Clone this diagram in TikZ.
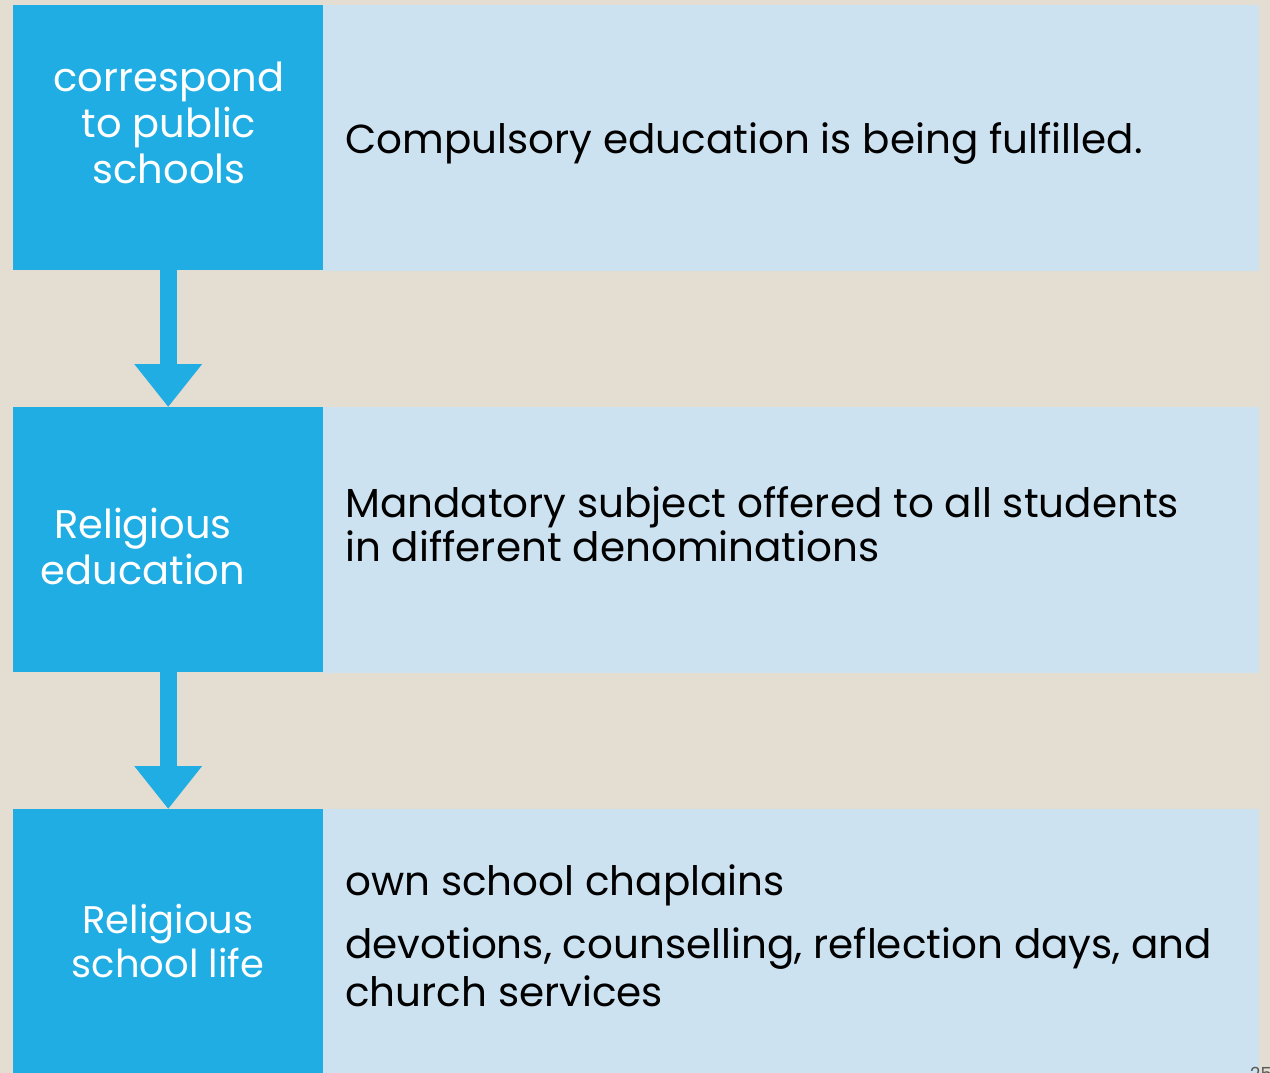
\documentclass[tikz,border=0pt]{standalone}
\usepackage{fontspec}
\setmainfont{Poppins}
\usetikzlibrary{arrows.meta}
\definecolor{bgbeige}{HTML}{E3DDD2}
\definecolor{boxblue}{HTML}{1FADE3}
\definecolor{paleblue}{HTML}{CDE2F1}
\definecolor{pagegray}{HTML}{595959}
\tikzset{
  keybox/.style={fill=boxblue, draw=none, inner sep=0pt, anchor=north west, minimum width=310pt, minimum height=265pt},
  infobox/.style={fill=paleblue, draw=none, inner sep=0pt, anchor=north west, minimum width=936pt, minimum height=266pt},
  keytext/.style={text=white, align=center, inner sep=0pt, anchor=base, font=\fontsize{40}{46}\selectfont},
  infotext/.style={text=black, align=left, inner sep=0pt, anchor=base west, font=\fontsize{40.5}{45}\selectfont},
  flowarrow/.style={draw=boxblue, line width=17pt, -{Triangle[width=65pt,length=43pt]}, shorten <=-1pt},
}
\begin{document}
\begin{tikzpicture}[x=1pt,y=-1pt]
\useasboundingbox[fill=bgbeige] (0,0) rectangle (1270,1073);
% rows
\node[infobox] (i1) at (323,5) {};
\node[keybox] (k1) at (13,5) {};
\node[infobox] (i2) at (323,407) {};
\node[keybox] (k2) at (13,407) {};
\node[infobox, minimum height=270pt] (i3) at (323,809) {};
\node[keybox, minimum height=270pt] (k3) at (13,809) {};
% arrows
\draw[flowarrow] (k1.south) -- (k2.north);
\draw[flowarrow] (k2.south) -- (k3.north);
% left labels (anchor base = baseline of last line)
\node[keytext] (t1) at (169,183) {correspond\\to public\\schools};
\node[keytext] (t2) at (143,584) {Religious\\education};
\node[keytext, font=\fontsize{38.5}{44}\selectfont] (t3) at (168,977) {Religious\\school life};
% right labels
\node[infotext] (d1) at (345,153) {Compulsory education is being fulfilled.};
\node[infotext, font=\fontsize{40.5}{44}\selectfont] (d2) at (345,561) {Mandatory subject offered to all students\\in different denominations};
\node[infotext] (d3a) at (345,895) {own school chaplains};
\node[infotext, font=\fontsize{40.5}{48}\selectfont] (d3b) at (345,1006) {devotions, counselling, reflection days, and\\church services};
% page number
\node[text=pagegray, inner sep=0pt, anchor=base west, font=\fontsize{18}{18}\selectfont] (pg) at (1250,1080) {25};
\end{tikzpicture}
\end{document}
